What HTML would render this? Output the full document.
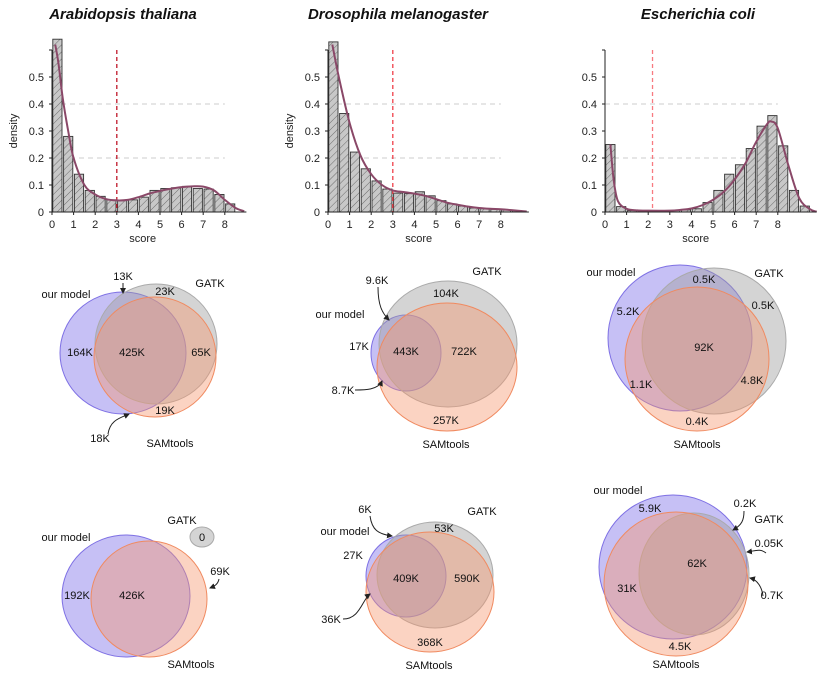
<!DOCTYPE html>
<html><head><meta charset="utf-8"><style>
body{margin:0;background:#fff;}
svg{display:block;font-family:"Liberation Sans",sans-serif;}
.t{font-size:11px;fill:#222;}
.v{font-size:11px;fill:#111;text-anchor:middle;}
</style></head><body>
<svg id="fig" width="830" height="694" viewBox="0 0 830 694">
<defs><pattern id="hatch" width="5" height="5" patternUnits="userSpaceOnUse" patternTransform="rotate(45)"><rect width="5" height="5" fill="#c8c8c8"/><line x1="0" y1="0" x2="0" y2="5" stroke="#444" stroke-width="0.7"/></pattern>
<marker id="ah" markerWidth="6" markerHeight="6" refX="5" refY="3" orient="auto"><path d="M0,0L6,3L0,6z" fill="#222"/></marker></defs>
<g font-weight="bold" font-style="italic" font-size="15" text-anchor="middle" fill="#111">
<text x="123" y="19">Arabidopsis thaliana</text>
<text x="398" y="19">Drosophila melanogaster</text>
<text x="698" y="19">Escherichia coli</text>
</g>
<g id="hists"></g>
<g id="venns"></g>
</svg>
<script>
const yTicks=[0,0.1,0.2,0.3,0.4,0.5];
const xTicks=[0,1,2,3,4,5,6,7,8];
const bars1=[0.64,0.28,0.14,0.08,0.058,0.045,0.042,0.045,0.055,0.08,0.087,0.09,0.095,0.087,0.085,0.065,0.03];
const bars2=[0.63,0.365,0.222,0.16,0.115,0.085,0.07,0.068,0.075,0.06,0.042,0.03,0.022,0.015,0.012,0.01,0.008,0.005];
const bars3=[0.25,0.02,0.005,0.003,0.003,0.003,0.005,0.008,0.012,0.035,0.08,0.14,0.175,0.235,0.318,0.357,0.245,0.08,0.022];
const kdeX1=[0.15,0.3,0.5,0.75,1,1.5,2,2.5,3,3.5,4,4.5,5,5.5,6,6.5,7,7.5,8,8.5,8.9];
const kdeY1=[0.62,0.55,0.42,0.3,0.2,0.1,0.065,0.048,0.043,0.045,0.055,0.068,0.078,0.086,0.092,0.095,0.094,0.08,0.045,0.015,0.003];
const kdeX2=[0.2,0.5,1,1.5,2,2.5,3,3.5,4,4.5,5,5.5,6,6.5,7,7.5,8,8.5,9.2];
const kdeY2=[0.62,0.5,0.33,0.21,0.14,0.1,0.08,0.074,0.068,0.06,0.048,0.035,0.027,0.02,0.015,0.012,0.01,0.007,0.002];
const kdeX3=[0.25,0.4,0.6,1,1.5,2,3,3.5,4,4.5,5,5.5,6,6.5,7,7.5,7.7,8,8.5,9,9.5,9.8];
const kdeY3=[0.25,0.12,0.04,0.012,0.006,0.005,0.005,0.008,0.013,0.025,0.045,0.075,0.12,0.18,0.26,0.325,0.335,0.31,0.17,0.05,0.01,0.001];
const thresholds=[3,3,2.2];
const NS='http://www.w3.org/2000/svg';
function mk(tag,attrs,parent,text){const e=document.createElementNS(NS,tag);for(const k in attrs)e.setAttribute(k,attrs[k]);if(text!==undefined)e.textContent=text;parent.appendChild(e);return e;}
const panels=[{x0:52,xmax:9.0,bars:bars1,kx:kdeX1,ky:kdeY1,th:thresholds[0],thc:'#c0182a',ylab:true},
{x0:328,xmax:9.3,bars:bars2,kx:kdeX2,ky:kdeY2,th:thresholds[1],thc:'#f0404a',ylab:true},
{x0:605,xmax:9.8,bars:bars3,kx:kdeX3,ky:kdeY3,th:thresholds[2],thc:'#f87a80',ylab:false}];
const H=document.getElementById('hists');
panels.forEach((p,i)=>{
 const sx=v=>p.x0+v*21.6, sy=v=>212-v*270;
 const g=mk('g',{},H);
 
 
 [0.2,0.4].forEach(v=>{mk('line',{x1:sx(0),x2:sx(8),y1:sy(v),y2:sy(v),stroke:'#ccc','stroke-dasharray':'5,4'},g);});
 p.bars.forEach((v,j)=>{const r=mk('rect',{x:sx(j*0.5)+0.8,y:sy(Math.min(v,0.65)),width:21.6*0.5-1.6,height:sy(0)-sy(Math.min(v,0.65)),fill:'url(#hatch)',stroke:'#333','stroke-width':0.9},g);
  
  });
 const l=mk('line',{x1:sx(p.th),x2:sx(p.th),y1:50,y2:212,stroke:p.thc,'stroke-dasharray':'4,3','stroke-width':1.3},g);
 
 
 const pts=p.kx.map((x,k)=>[sx(x),sy(p.ky[k])]);
 let d='M'+pts[0][0]+','+pts[0][1];
 for(let k=0;k<pts.length-1;k++){const p0=pts[Math.max(0,k-1)],p1=pts[k],p2=pts[k+1],p3=pts[Math.min(pts.length-1,k+2)];
  d+=` C${p1[0]+(p2[0]-p0[0])/6},${p1[1]+(p2[1]-p0[1])/6} ${p2[0]-(p3[0]-p1[0])/6},${p2[1]-(p3[1]-p1[1])/6} ${p2[0]},${p2[1]}`;}
 const c=mk('path',{d:d,fill:'none',stroke:'#8a4868','stroke-width':2},g);
 
 
 mk('line',{x1:sx(0),x2:sx(0),y1:50,y2:212,stroke:'#222'},g);
 mk('line',{x1:sx(0),x2:sx(p.xmax),y1:212,y2:212,stroke:'#222'},g);
 mk('line',{x1:sx(0)-3,x2:sx(0),y1:50,y2:50,stroke:'#222'},g);
 yTicks.forEach(v=>{mk('line',{x1:sx(0)-3,x2:sx(0),y1:sy(v),y2:sy(v),stroke:'#222'},g);
  const t=mk('text',{x:sx(0)-8,y:sy(v)+4,'text-anchor':'end',class:'t'},g,String(v));
  
  });
 xTicks.forEach(v=>{mk('line',{x1:sx(v),x2:sx(v),y1:212,y2:215,stroke:'#222'},g);
  const t=mk('text',{x:sx(v),y:228,'text-anchor':'middle',class:'t'},g,String(v));
  
  });
 const xt=mk('text',{x:sx(4.2),y:242,'text-anchor':'middle',class:'t'},g,'score');
 
 
 if(p.ylab){const yt=mk('text',{x:0,y:0,transform:`translate(${p.x0-35},131) rotate(-90)`,'text-anchor':'middle',class:'t'},g,'density');
  
  }
});
const V=document.getElementById('venns');
const blue={fill:'rgba(128,116,232,0.45)',stroke:'#7e70e4'},gray={fill:'rgba(160,160,160,0.45)',stroke:'#aaa'},orange={fill:'rgba(245,150,110,0.42)',stroke:'#f08a60'};
const venns=[
 {c:[[123,353,63,61,blue,'our-model'],[156,344,61,60,gray,'gatk'],[155,357,61,60,orange,'samtools']],
  l:[['13K',123,280],['GATK',210,287],['our model',66,298],['23K',165,295],['164K',80,356],['425K',132,356],['65K',201,356],['19K',165,414],['18K',100,442],['SAMtools',170,447]],
  a:['M123,283 L123,293','M108,434 C110,420 120,418 129,414']},
 {c:[[406,353,35,38,blue,'our-model'],[448,344,69,63,gray,'gatk'],[447,367,70,64,orange,'samtools']],
  l:[['9.6K',377,284],['GATK',487,275],['104K',446,297],['our model',340,318],['17K',359,350],['443K',406,355],['722K',464,355],['8.7K',343,394],['257K',446,424],['SAMtools',446,448]],
  a:['M378,287 C378,305 382,313 389,320','M355,390 C365,390 378,390 382,381']},
 {c:[[680,338,72,73,blue,'our-model'],[714,341,72,73,gray,'gatk'],[697,359,72,72,orange,'samtools']],
  l:[['our model',611,276],['0.5K',704,283],['GATK',769,277],['0.5K',763,309],['5.2K',628,315],['92K',704,351],['1.1K',641,388],['4.8K',752,384],['0.4K',697,425],['SAMtools',697,448]],a:[]},
 {c:[[126,596,64,61,blue,'our-model'],[202,537,12,10,gray,'gatk'],[149,599,58,58,orange,'samtools']],
  l:[['GATK',182,524],['0',202,541],['our model',66,541],['69K',220,575],['192K',77,599],['426K',132,599],['SAMtools',191,668]],
  a:['M219,579 C218,584 215,586 210,588']},
 {c:[[406,576,40,41,blue,'our-model'],[435,575,58,53,gray,'gatk'],[430,592,64,60,orange,'samtools']],
  l:[['6K',365,513],['GATK',482,515],['our model',345,535],['53K',444,532],['27K',353,559],['409K',406,582],['590K',467,582],['36K',331,623],['368K',430,646],['SAMtools',429,669]],
  a:['M370,516 C372,530 378,534 392,536','M343,619 C360,619 362,600 370,594']},
 {c:[[673,567,74,72,blue,'our-model'],[694,574,55,61,gray,'gatk'],[676,584,72,72,orange,'samtools']],
  l:[['our model',618,494],['5.9K',650,512],['0.2K',745,507],['GATK',769,523],['0.05K',769,547],['62K',697,567],['31K',627,592],['0.7K',772,599],['4.5K',680,650],['SAMtools',676,668]],
  a:['M744,511 C744,520 742,525 733,530','M766,553 C760,548 755,551 747,552','M763,596 C762,588 758,580 750,578']}
];
venns.forEach((vd,i)=>{
 const g=mk('g',{},V);
 
 
 vd.c.forEach(c=>{const e=mk('ellipse',{cx:c[0],cy:c[1],rx:c[2],ry:c[3],fill:c[4].fill,stroke:c[4].stroke,'stroke-width':1},g);
  
  });
 vd.a.forEach(d=>{const p=mk('path',{d:d,fill:'none',stroke:'#222','stroke-width':1,'marker-end':'url(#ah)'},g);
  
  });
 vd.l.forEach(l=>{const t=mk('text',{x:l[1],y:l[2],class:'v'},g,l[0]);
  
  });
});
</script>
</body></html>
